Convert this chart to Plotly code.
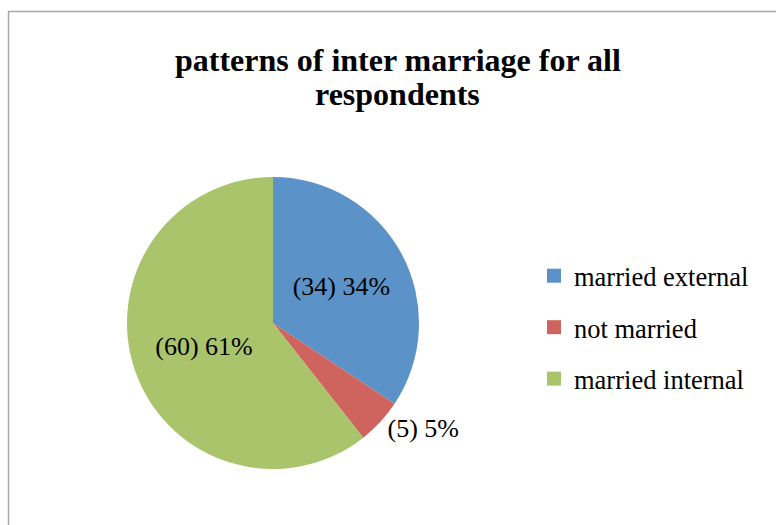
import plotly.graph_objects as go

labels = ["married external", "not married", "married internal"]
values = [34, 5, 60]
colors = ["#5b93c8", "#cf645e", "#a9c46b"]
text_positions = ["inside", "outside", "inside"]
title_lines = ["patterns of inter marriage for all", "respondents"]

W, H = 776, 525
serif = "Times New Roman, Liberation Serif, DejaVu Serif, serif"

fig = go.Figure()
fig.add_trace(
    go.Pie(
        labels=labels,
        values=values,
        sort=False,
        direction="clockwise",
        rotation=0,
        marker=dict(colors=colors, line=dict(width=0)),
        texttemplate="(%{value}) %{percent:.0%}",
        textposition=text_positions,
        insidetextorientation="horizontal",
        textfont=dict(family=serif, size=26, color="#000000"),
        hoverinfo="label+value+percent",
        domain=dict(x=[127 / W, 419 / W], y=[1 - 469 / H, 1 - 177 / H]),
        showlegend=False,
    )
)

# legend entries: one square swatch per category, spaced apart
for lab, col in zip(labels, colors):
    fig.add_trace(
        go.Scatter(
            x=[None],
            y=[None],
            mode="markers",
            name=lab,
            legendgroup=lab,
            marker=dict(symbol="square", size=14, color=col),
            hoverinfo="skip",
        )
    )

title_centers = [60, 94]
annotations = []
for line, yc in zip(title_lines, title_centers):
    annotations.append(
        dict(
            text="<b>%s</b>" % line,
            x=398 / W,
            y=1 - yc / H,
            xref="paper",
            yref="paper",
            xanchor="center",
            yanchor="middle",
            showarrow=False,
            font=dict(family=serif, size=32, color="#000000"),
        )
    )

fig.update_layout(
    width=W,
    height=H,
    margin=dict(l=0, r=0, t=0, b=0),
    paper_bgcolor="#ffffff",
    plot_bgcolor="#ffffff",
    annotations=annotations,
    xaxis=dict(visible=False),
    yaxis=dict(visible=False),
    legend=dict(
        x=534 / W,
        y=1 - 252 / H,
        xanchor="left",
        yanchor="top",
        font=dict(family=serif, size=26.5, color="#000000"),
        itemwidth=30,
        tracegroupgap=14,
        bgcolor="rgba(0,0,0,0)",
    ),
    shapes=[
        dict(
            type="rect",
            xref="paper",
            yref="paper",
            x0=8.5 / W,
            x1=1.2,
            y0=-0.2,
            y1=1 - 11.5 / H,
            line=dict(color="#a6a6a6", width=1.5),
            fillcolor="rgba(0,0,0,0)",
        )
    ],
)

fig.write_html("out.html")
